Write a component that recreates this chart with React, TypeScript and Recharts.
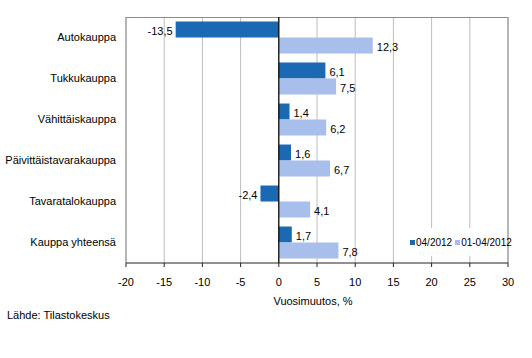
import { Bar, BarChart, CartesianGrid, Legend, ReferenceLine, XAxis, YAxis } from 'recharts';

const categories = ['Autokauppa', 'Tukkukauppa', 'Vähittäiskauppa', 'Päivittäistavarakauppa', 'Tavaratalokauppa', 'Kauppa yhteensä'];
const month = [-13.5, 6.1, 1.4, 1.6, -2.4, 1.7];
const cumulative = [12.3, 7.5, 6.2, 6.7, 4.1, 7.8];
const xTicks = [-20, -15, -10, -5, 0, 5, 10, 15, 20, 25, 30];

const DARK = '#1B69B3';
const LIGHT = '#A8BEEB';
const FONT = '"Liberation Sans", Arial, sans-serif';

const data = categories.map((name, i) => ({ name, m: month[i], c: cumulative[i] }));

function ValueLabel(props: any) {
  const { x, y, width, height, value } = props;
  const left = Math.min(x, x + width);
  const right = Math.max(x, x + width);
  const neg = value < 0;
  return (
    <text
      x={neg ? left - 3 : right + 4}
      y={y + height / 2 + 5}
      textAnchor={neg ? 'end' : 'start'}
      fontSize={11}
      fontFamily={FONT}
      fill="#000"
    >
      {String(value).replace('.', ',')}
    </text>
  );
}

function LegendBox() {
  const items = [
    { label: '04/2012', color: DARK },
    { label: '01-04/2012', color: LIGHT },
  ];
  return (
    <div style={{ background: '#fff', display: 'flex', alignItems: 'center', height: 28, fontFamily: FONT, fontSize: 10, color: '#000', whiteSpace: 'nowrap' }}>
      {items.map((it) => (
        <span key={it.label} style={{ display: 'flex', alignItems: 'center', marginRight: 3 }}>
          <span style={{ width: 5, height: 5, background: it.color, display: 'inline-block', marginRight: 1 }} />
          {it.label}
        </span>
      ))}
    </div>
  );
}

export default function App() {
  return (
    <div style={{ position: 'absolute', left: 0, top: 0, width: 532, height: 358, background: '#fff', fontFamily: FONT }}>
      <BarChart
        width={532}
        height={358}
        data={data}
        layout="vertical"
        margin={{ top: 17, right: 24, left: 6, bottom: 53 }}
        barCategoryGap="11%"
        barGap={0}
      >
        <CartesianGrid stroke="#BDBDBD" horizontal={false} />
        <CartesianGrid stroke="#8C8C8C" vertical={false} horizontalPoints={[17.5]} />
        <XAxis
          type="number"
          domain={[-20, 30]}
          ticks={xTicks}
          interval={0}
          tickSize={4}
          tickMargin={11}
          stroke="#222"
          tick={{ fontSize: 11, fill: '#000', fontFamily: FONT }}
          height={42}
          label={{ value: 'Vuosimuutos, %', position: 'insideBottom', offset: 0, dx: -4, fontSize: 11, fill: '#000', fontFamily: FONT }}
        />
        <YAxis
          type="category"
          dataKey="name"
          width={120}
          tickSize={0}
          tickMargin={10}
          axisLine={false}
          tickLine={false}
          interval={0}
          tick={{ fontSize: 11, fill: '#000', fontFamily: FONT }}
        />
        <Legend
          verticalAlign="middle"
          align="center"
          layout="horizontal"
          content={<LegendBox />}
          wrapperStyle={{ left: 410, top: 228, width: 97 }}
        />
        <ReferenceLine x={30} stroke="#8C8C8C" />
        <ReferenceLine x={-20} stroke="#8C8C8C" />
        <Bar dataKey="m" name="04/2012" fill={DARK} isAnimationActive={false} label={<ValueLabel />} />
        <Bar dataKey="c" name="01-04/2012" fill={LIGHT} isAnimationActive={false} label={<ValueLabel />} />
        <ReferenceLine x={0} stroke="#000" strokeWidth={1.2} />
      </BarChart>
      <div style={{ position: 'absolute', left: 7, top: 309, fontSize: 11, color: '#000' }}>Lähde: Tilastokeskus</div>
    </div>
  );
}
